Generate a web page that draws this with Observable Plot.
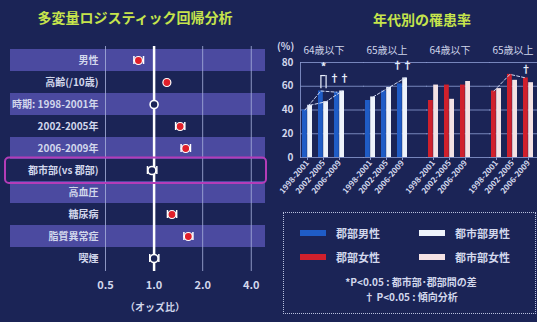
<!DOCTYPE html>
<html><head><meta charset="utf-8">
<script src="https://cdn.jsdelivr.net/npm/d3@7"></script>
<script src="https://cdn.jsdelivr.net/npm/@observablehq/plot@0.6"></script>
<style>
html,body{margin:0;padding:0;background:#1b2456;}
#wrap{position:relative;width:537px;height:322px;overflow:hidden;background:#1b2456;font-family:"Noto Sans CJK JP","Noto Sans",sans-serif;}
.abs{position:absolute;white-space:nowrap;line-height:1;}
.title{color:#c6e44c;font-weight:bold;font-size:14px;transform:translate(-50%,-50%);}
.txt{color:#d2d7ec;font-weight:bold;}
</style></head>
<body><div id="wrap"></div>
<script>
// ---------- forest plot data ----------
const factors = ["男性","高齢(/10歳)","時期: 1998-2001年","2002-2005年","2006-2009年","都市部(vs 郡部)","高血圧","糖尿病","脂質異常症","喫煙"];
const oddsRatio = [0.80,1.20,1.00,1.45,1.57,0.97,null,1.29,1.63,1.00];
const ciLow  = [0.75,null,null,1.36,1.47,0.91,null,1.21,1.53,0.94];
const ciHigh = [0.86,null,null,1.55,1.68,1.04,null,1.38,1.74,1.07];
const significant = [true,true,false,true,true,false,false,true,true,false];
const orTicks = [0.5,1,2,4];
const orDomain = [0.5,4.9];
const highlighted = ["都市部(vs 郡部)"];

// ---------- bar chart data ----------
const groups = ["m64","m65","f64","f65"];
const groupLabels = ["64歳以下","65歳以上","64歳以下","65歳以上"];
const groupSex = ["male","male","female","female"];
const periods = ["1998-2001","2002-2005","2006-2009"];
const ruralRates = [[40,56,55],[48,56,62],[48,61,61],[56,70,67]];
const urbanRates = [[44,47,56],[51,59,67],[61,49,64],[58,65,63]];
const yTicks = [0,20,40,60,80];
const seriesNames = ["郡部男性","都市部男性","郡部女性","都市部女性"];
const seriesColors = ["#1f5cc6","#eef3fb","#d0202c","#f4e2e4"];
const trendSeries = [["m64","rural"],["m64","urban"],["m65","urban"],["f65","rural"]];
const starMarks = [{group:"m64",period:"2002-2005",base:58,top:69,label:"*",labelY:76}];
const daggerMarks = [{group:"m64",period:"2006-2009",y:66,label:"††",area:"both"},{group:"m65",period:"2006-2009",y:77,label:"††",area:"both"},{group:"f65",period:"2006-2009",y:74,label:"†",area:"rural"}];
const notes = ["*P<0.05 : 都市部･郡部間の差","† P<0.05 : 傾向分析"];

const FONT = '"Noto Sans CJK JP","Noto Sans",sans-serif';
const BG = "#1b2456";
const wrap = document.getElementById("wrap");
function addDiv(cls, text, left, top, style){
  const d=document.createElement("div"); d.className="abs "+cls; d.textContent=text;
  d.style.left=left+"px"; d.style.top=top+"px"; if(style) Object.assign(d.style,style); wrap.appendChild(d); return d;
}

// ---------- left: forest plot ----------
const rows = factors.map((f,i)=>({factor:f, or:oddsRatio[i], lo:ciLow[i], hi:ciHigh[i], sig:significant[i], band:i%2===0}));
const withCI = rows.filter(d=>d.lo!=null);
const left = Plot.plot({
  width:268, height:322, marginLeft:105, marginRight:3, marginTop:46, marginBottom:51,
  style:{background:"transparent", color:"#d2d7ec", fontFamily:FONT, fontWeight:"bold", overflow:"visible"},
  x:{type:"log", domain:orDomain},
  y:{domain:factors, padding:0},
  marks:[
    Plot.barX(rows.filter(d=>d.band), {y:"factor", x1:orDomain[0], x2:orDomain[1], insetLeft:-95, fill:"#4b4aa0"}),
    Plot.ruleX(orTicks.filter(t=>t!==1), {stroke:"#a9b2dc", strokeWidth:1, strokeOpacity:0.8}),
    Plot.ruleX([1], {stroke:"#ffffff", strokeWidth:2.5}),
    Plot.barX(highlighted, {y:d=>d, x1:orDomain[0], x2:orDomain[1], insetLeft:-100, insetRight:-1, insetTop:-1.5, insetBottom:-2, fill:"none", stroke:"#b43cb8", strokeWidth:2, rx:4}),
    Plot.ruleY(withCI, {y:"factor", x1:"lo", x2:"hi", stroke:"#fff", strokeWidth:1.5}),
    Plot.tickX(withCI, {x:"lo", y:"factor", stroke:"#fff", strokeWidth:1.5, insetTop:7, insetBottom:7}),
    Plot.tickX(withCI, {x:"hi", y:"factor", stroke:"#fff", strokeWidth:1.5, insetTop:7, insetBottom:7}),
    Plot.dot(rows.filter(d=>d.or!=null && d.sig), {x:"or", y:"factor", r:4, fill:"#e01f2a", stroke:"#fff", strokeWidth:1.2}),
    Plot.dot(rows.filter(d=>d.or!=null && !d.sig), {x:"or", y:"factor", r:4, fill:BG, stroke:"#fff", strokeWidth:1.6}),
    Plot.axisY({tickSize:0, tickPadding:7, fontSize:10, label:null}),
    Plot.axisX({ticks:orTicks, tickFormat:d3.format(".1f"), tickSize:0, tickPadding:10, fontSize:11, label:null})
  ]
});
left.style.position="absolute"; left.style.left="0px"; left.style.top="0px";
wrap.appendChild(left);

// ---------- right: bar chart ----------
const bars = [];
groups.forEach((g,gi)=>periods.forEach((p,pi)=>{
  const male = groupSex[gi]==="male";
  bars.push({group:g, period:p, area:"rural", value:ruralRates[gi][pi], color: male?seriesColors[0]:seriesColors[2]});
  bars.push({group:g, period:p, area:"urban", value:urbanRates[gi][pi], color: male?seriesColors[1]:seriesColors[3]});
}));
const trend = bars.filter(b=>trendSeries.some(([g,a])=>g===b.group && a===b.area));
const right = Plot.plot({
  width:269, height:205, marginLeft:31, marginRight:0, marginTop:62, marginBottom:48,
  style:{background:"transparent", color:"#d2d7ec", fontFamily:FONT, fontWeight:"bold", overflow:"visible"},
  fx:{domain:groups, paddingInner:0.26, paddingOuter:0},
  x:{domain:periods, paddingInner:0.36, paddingOuter:0.12},
  y:{domain:[0,80]},
  color:{type:"identity"},
  marks:[
    Plot.ruleY(yTicks, {stroke:"#8796cc", strokeWidth:1, strokeOpacity:0.85, insetRight:-17}),
    Plot.frame({anchor:"left", facetAnchor:"left", stroke:"#8796cc", strokeOpacity:0.85}),
    Plot.barY(bars.filter(b=>b.area==="rural"), {fx:"group", x:"period", y:"value", fill:"color", insetRight:5.2}),
    Plot.barY(bars.filter(b=>b.area==="urban"), {fx:"group", x:"period", y:"value", fill:"color", insetLeft:5.2}),
    Plot.line(trend.filter(b=>b.area==="rural"), {fx:"group", x:"period", y:"value", z:"group", dx:-2.6, stroke:"#cfd8f2", strokeWidth:1, strokeDasharray:"3,2"}),
    Plot.line(trend.filter(b=>b.area==="urban"), {fx:"group", x:"period", y:"value", z:"group", dx:2.6, stroke:"#cfd8f2", strokeWidth:1, strokeDasharray:"3,2"}),
    Plot.ruleX(starMarks, {fx:"group", x:"period", y1:"base", y2:"top", dx:-2.6, stroke:"#e8eefc", strokeWidth:1.2}),
    Plot.ruleX(starMarks, {fx:"group", x:"period", y1:"base", y2:"top", dx:2.6, stroke:"#e8eefc", strokeWidth:1.2}),
    Plot.tickY(starMarks, {fx:"group", x:"period", y:"top", insetLeft:2.6, insetRight:2.6, stroke:"#e8eefc", strokeWidth:1.2}),
    Plot.text(starMarks, {fx:"group", x:"period", y:"labelY", text:"label", fill:"#e8eefc", fontSize:11}),
    Plot.text(daggerMarks.filter(d=>d.area==="both"), {fx:"group", x:"period", y:"y", text:"label", fill:"#e8eefc", fontSize:10}),
    Plot.text(daggerMarks.filter(d=>d.area==="rural"), {fx:"group", x:"period", y:"y", text:"label", dx:-2.6, fill:"#e8eefc", fontSize:10}),
    Plot.axisY({ticks:yTicks, tickSize:0, tickPadding:7, fontSize:10, label:null}),
    Plot.axisX({tickRotate:-50, tickSize:3, tickPadding:1, fontSize:8, label:null, stroke:"#8796cc"}),
    Plot.axisFx({anchor:"top", tickSize:0, tickPadding:9, fontSize:10, fontWeight:"normal", tickFormat:d=>groupLabels[groups.indexOf(d)], label:null})
  ]
});
right.style.position="absolute"; right.style.left="268px"; right.style.top="0px";
wrap.appendChild(right);

// ---------- titles & texts ----------
addDiv("title","多変量ロジスティック回帰分析",135,17);
addDiv("title","年代別の罹患率",422,19);
addDiv("txt","（オッズ比）",155,307,{fontSize:"10px",transform:"translate(-50%,-50%)"});
addDiv("txt","(%)",277,41,{fontSize:"10px"});

// ---------- legend ----------
const box = document.createElement("div");
box.className="abs"; Object.assign(box.style,{left:"283px",top:"212px",width:"251px",height:"100px",border:"1.5px dotted #b8c0de"});
wrap.appendChild(box);
const legPos = [[300,233],[419,233],[300,257],[419,257]];
seriesNames.forEach((n,i)=>{
  const [x,y]=legPos[i];
  const sw=document.createElement("div"); sw.className="abs";
  Object.assign(sw.style,{left:x+"px",top:(y-3)+"px",width:"26px",height:"6px",background:seriesColors[i]});
  wrap.appendChild(sw);
  addDiv("txt",n,x+36,y,{fontSize:"11px",transform:"translateY(-50%)"});
});
addDiv("txt",notes[0],411,282,{fontSize:"10px",transform:"translate(-50%,-50%)"});
addDiv("txt",notes[1],411,297,{fontSize:"10px",transform:"translate(-50%,-50%)"});
</script></body></html>
